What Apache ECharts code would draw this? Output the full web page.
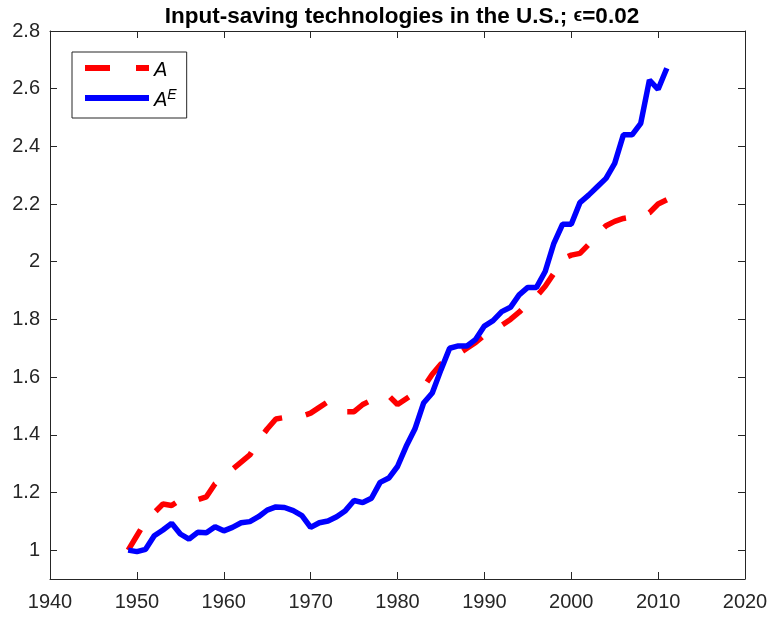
<!DOCTYPE html>
<html>
<head>
<meta charset="utf-8">
<script src="https://cdn.jsdelivr.net/npm/echarts@6/dist/echarts.min.js"></script>
<style>
  html, body { margin: 0; padding: 0; background: #fff; }
  #main { width: 771px; height: 617px; }
</style>
</head>
<body>
<div id="main"></div>
<script>
// years 1949..2011
let years = [];
for (let y = 1949; y <= 2011; y++) years.push(y);

// A (red dashed)
let aVals = [1.0, 1.05, 1.10, 1.13, 1.16, 1.155, 1.175, 1.17, 1.175, 1.185,
  1.23, 1.25, 1.28, 1.305, 1.33, 1.38, 1.42, 1.455, 1.46, 1.465,
  1.465, 1.475, 1.495, 1.515, 1.50, 1.48, 1.48, 1.505, 1.52, 1.535,
  1.535, 1.505, 1.525, 1.545, 1.565, 1.61, 1.645, 1.665, 1.68, 1.70,
  1.72, 1.745, 1.765, 1.78, 1.80, 1.825, 1.855, 1.88, 1.915, 1.96,
  2.01, 2.023, 2.029, 2.06, 2.095, 2.125, 2.14, 2.15, 2.155, 2.16,
  2.17, 2.20, 2.215];

// A^E (blue solid)
let aeVals = [1.0, 0.995, 1.003, 1.05, 1.07, 1.093, 1.056, 1.038, 1.062, 1.06,
  1.081, 1.067, 1.079, 1.095, 1.099, 1.116, 1.139, 1.15, 1.148, 1.137,
  1.12, 1.079, 1.095, 1.101, 1.116, 1.137, 1.172, 1.165, 1.18, 1.235,
  1.25, 1.29, 1.36, 1.42, 1.51, 1.545, 1.625, 1.70, 1.708, 1.708,
  1.731, 1.777, 1.796, 1.827, 1.842, 1.885, 1.911, 1.911, 1.966, 2.064,
  2.13, 2.13, 2.205, 2.231, 2.26, 2.289, 2.341, 2.44, 2.44, 2.48,
  2.63, 2.598, 2.671];

let yTicks = [1, 1.2, 1.4, 1.6, 1.8, 2, 2.2, 2.4, 2.6, 2.8];

function pairs(vals) {
  return years.map(function (y, i) { return [y, vals[i]]; });
}

let axisCol = '#262626';
let font = '"Liberation Sans", Arial, Helvetica, sans-serif';

function xAx(pos, showLabel) {
  return {
    type: 'value', position: pos, min: 1940, max: 2020, interval: 10,
    axisLine: { show: true, onZero: false, lineStyle: { color: axisCol, width: 1 } },
    axisTick: { show: true, inside: true, length: 7, lineStyle: { color: axisCol } },
    axisLabel: {
      show: showLabel, color: axisCol, fontSize: 20, fontFamily: font, margin: 13,
      formatter: function (v) { return String(v); }
    },
    splitLine: { show: false }
  };
}
function yAx(pos, showLabel) {
  return {
    type: 'value', position: pos, min: 0.9, max: 2.8,
    axisLine: { show: true, onZero: false, lineStyle: { color: axisCol, width: 1 } },
    axisTick: { show: true, inside: true, length: 7, customValues: yTicks, lineStyle: { color: axisCol } },
    axisLabel: { show: showLabel, color: axisCol, fontSize: 20, fontFamily: font, margin: 10, customValues: yTicks },
    splitLine: { show: false }
  };
}

let myChart = echarts.init(document.getElementById('main'));
let option = {
  animation: false,
  backgroundColor: '#fff',
  title: {
    text: '{b|Input-saving technologies in the U.S.; }{e|ϵ}{b|=0.02}',
    left: 397, top: 0, textAlign: 'center',
    textStyle: {
      rich: {
        b: { fontFamily: font, fontWeight: 'bold', fontSize: 22.5, color: '#000' },
        e: { fontFamily: font, fontSize: 18, color: '#000' }
      }
    }
  },
  grid: { left: 50, right: 26, top: 31, bottom: 38, containLabel: false },
  xAxis: [xAx('bottom', true), xAx('top', false)],
  yAxis: [yAx('left', true), yAx('right', false)],
  legend: {
    left: 72, top: 52, orient: 'vertical',
    padding: [8, 10, 8, 13],
    itemGap: 8,
    itemWidth: 64, itemHeight: 6,
    symbolKeepAspect: false,
    borderColor: axisCol, borderWidth: 1,
    backgroundColor: '#fff',
    data: [
      { name: 'A', icon: 'path://M0,0H25V6H0Z M51,0H64V6H51Z' },
      { name: 'AE', icon: 'rect' }
    ],
    formatter: function (name) {
      return name === 'A' ? '{i|A}' : '{i|A}{s|E}';
    },
    textStyle: {
      padding: [0, 0, 0, 0],
      rich: {
        i: { fontFamily: font, fontStyle: 'italic', fontSize: 20, color: '#000', height: 24, padding: [4, 0, 0, 0] },
        s: { fontFamily: font, fontStyle: 'italic', fontSize: 14, color: '#000', height: 24, padding: [0, 0, 6, 0] }
      }
    }
  },
  series: [
    {
      name: 'A', type: 'line', data: pairs(aVals), showSymbol: false, symbol: 'none',
      lineStyle: { color: '#ff0000', width: 5.5, type: [24, 24], cap: 'butt' },
      itemStyle: { color: '#ff0000' }, z: 3
    },
    {
      name: 'AE', type: 'line', data: pairs(aeVals), showSymbol: false, symbol: 'none',
      lineStyle: { color: '#0000ff', width: 5.5, type: 'solid' },
      itemStyle: { color: '#0000ff' }, z: 4
    }
  ]
};
myChart.setOption(option);
</script>
</body>
</html>
